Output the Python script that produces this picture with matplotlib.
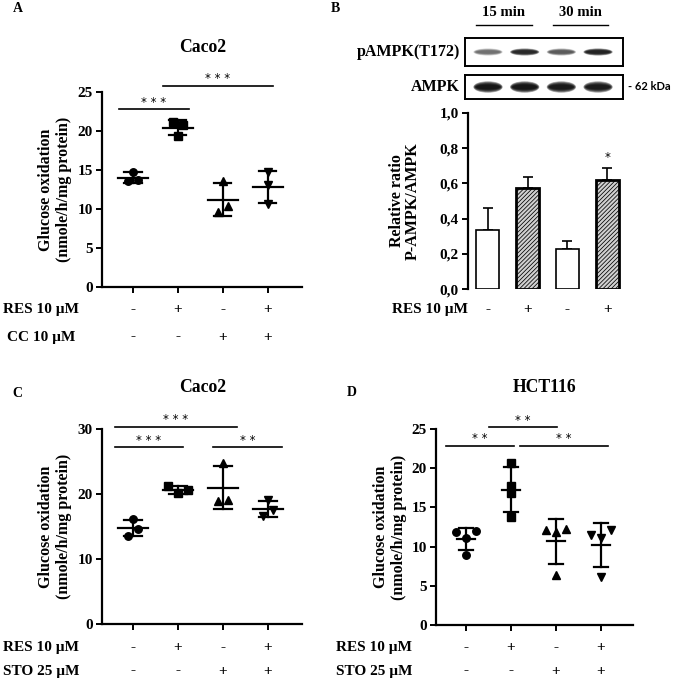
import numpy as np
import matplotlib
matplotlib.use("Agg")
import matplotlib.pyplot as plt
from matplotlib.patches import Ellipse

plt.rcParams['font.family'] = ['Liberation Serif', 'DejaVu Serif']
plt.rcParams['font.weight'] = 'bold'
plt.rcParams['hatch.linewidth'] = 0.55

# ---------------- data ----------------
# Panel A (Caco2, RES / CC)
a_groups = [[14.8, 13.6, 13.7], [21.1, 20.8, 19.3], [13.6, 9.65, 10.4], [14.7, 13.1, 10.7]]
a_row1 = ['-', '+', '-', '+']
a_row2 = ['-', '-', '+', '+']
# Panel B (pAMPK / AMPK ratio)
b_means = [0.336, 0.575, 0.226, 0.619]
b_err = [0.122, 0.063, 0.048, 0.070]
b_row1 = ['-', '+', '-', '+']
b_p_intensity = [0.35, 0.75, 0.45, 0.8]
b_t_intensity = [0.95, 0.97, 0.9, 0.88]
# Panel C (Caco2, RES / STO)
c_groups = [[16.1, 13.6, 14.6], [21.3, 20.1, 20.6], [24.8, 19.0, 19.1], [19.1, 16.6, 17.5]]
c_row1 = ['-', '+', '-', '+']
c_row2 = ['-', '-', '+', '+']
# Panel D (HCT116, RES / STO)
d_groups = [[11.9, 11.1, 12.0, 8.9], [20.7, 17.7, 16.8, 13.8],
            [12.1, 11.9, 12.3, 6.4], [11.5, 11.1, 12.1, 6.1]]
d_row1 = ['-', '+', '-', '+']
d_row2 = ['-', '-', '+', '+']
markers = ['o', 's', '^', 'v']

W, H = 675, 681
fig = plt.figure(figsize=(W / 100, H / 100), dpi=100)


def ax_px(l, r, t, b):
    return fig.add_axes([l / W, 1 - b / H, (r - l) / W, (b - t) / H])


FS_TICK = 11
FS_ROW = 11
FS_TITLE = 12.7
FS_YLAB = 11.5
STAR_FONT = dict(family='DejaVu Sans', fontweight='normal', fontsize=8.5)


def style(ax):
    for s in ['top', 'right']:
        ax.spines[s].set_visible(False)
    for s in ['left', 'bottom']:
        ax.spines[s].set_linewidth(1.6)
    ax.tick_params(width=1.4, length=4.5, labelsize=FS_TICK, pad=2)


def swarm_offsets(vals, ppu, thresh_px=7.0, step=0.22):
    vals = np.asarray(vals, dtype=float)
    order = np.argsort(vals)
    rows_, cur = [], [order[0]]
    for a, b in zip(order[:-1], order[1:]):
        if (vals[b] - vals[a]) * ppu < thresh_px:
            cur.append(b)
        else:
            rows_.append(cur)
            cur = [b]
    rows_.append(cur)
    offs = np.zeros(len(vals))
    for r in rows_:
        r = sorted(r)
        n = len(r)
        for k, idx in enumerate(r):
            offs[idx] = (k - (n - 1) / 2) * step
    return offs


def scatter_panel(ax, groups, mean_hw, cap_hw, ylim, yticks):
    style(ax)
    ax.set_ylim(*ylim)
    ppu = ax.get_position().height * H / (ylim[1] - ylim[0])
    for i, g in enumerate(groups):
        g = np.array(g)
        m = g.mean()
        sd = g.std(ddof=1)
        xs = i + swarm_offsets(g, ppu)
        ax.plot(xs, g, marker=markers[i], ls='none', color='black', ms=5.4, zorder=3, clip_on=False)
        ax.plot([i - mean_hw, i + mean_hw], [m, m], color='black', lw=1.6, zorder=4)
        ax.plot([i, i], [m - sd, m + sd], color='black', lw=1.6, zorder=4)
        for yy in (m - sd, m + sd):
            ax.plot([i - cap_hw, i + cap_hw], [yy, yy], color='black', lw=1.6, zorder=4)
    ax.set_yticks(yticks)
    ax.set_xticks(range(4))
    ax.set_xticklabels([])


def sig(ax, x0, x1, y, stars):
    ax.plot([x0, x1], [y, y], color='black', lw=1.2, clip_on=False)
    ax.annotate(stars, xy=((x0 + x1) / 2, y), xytext=(0, 2.6), textcoords='offset points',
                ha='center', va='baseline', annotation_clip=False, **STAR_FONT)


def rows2(ax, names, rowvals, ypix, xname_px):
    tr = ax.get_xaxis_transform()
    bb = ax.get_position()
    for name, vals, yp in zip(names, rowvals, ypix):
        yfrac = ((1 - yp / H) - bb.y0) / bb.height
        for i, v in enumerate(vals):
            ax.text(i, yfrac, v, ha='center', va='center', fontsize=FS_ROW, transform=tr, clip_on=False)
        fig.text(xname_px / W, 1 - yp / H, name, ha='center', va='center', fontsize=FS_ROW)


def ylab(ax, text, xpix, ls=1.2):
    bb = ax.get_position()
    fig.text(xpix / W, bb.y0 + bb.height / 2, text, rotation=90, ha='center', va='center',
             fontsize=FS_YLAB, linespacing=ls)


# ---------------- Panel A ----------------
axA = ax_px(102, 302, 92, 287)
scatter_panel(axA, a_groups, 0.33, 0.19, (0, 25), [0, 5, 10, 15, 20, 25])
axA.set_xlim(-0.69, 3.76)
sig(axA, -0.31, 1.24, 22.8, '* * *')
sig(axA, 0.67, 3.11, 25.8, '* * *')
fig.text(203 / W, 1 - 47 / H, 'Caco2', ha='center', va='center', fontsize=FS_TITLE)
rows2(axA, ['RES 10 µM', 'CC 10 µM'], [a_row1, a_row2], [310, 337], 41)
ylab(axA, 'Glucose oxidation\n(nmole/h/mg protein)', 55)
fig.text(18 / W, 1 - 9 / H, 'A', ha='center', va='center', fontsize=10)

# ---------------- Panel B ----------------
axB = ax_px(468, 627, 112.7, 289.3)
for s in ['top', 'right', 'bottom']:
    axB.spines[s].set_visible(False)
axB.spines['left'].set_linewidth(1.6)
axB.tick_params(axis='y', width=1.4, length=4.5, labelsize=FS_TICK, pad=2)
axB.tick_params(axis='x', length=0)
for i in range(4):
    hatched = i % 2 == 1
    axB.bar(i, b_means[i], width=0.58, facecolor='#d0d0d0' if hatched else 'white', edgecolor='black',
            lw=2.0 if hatched else 1.2, hatch='////////' if hatched else None, zorder=2)
    axB.errorbar(i, b_means[i], yerr=[[0], [b_err[i]]], color='black', capsize=3.5,
                 elinewidth=1.2, capthick=1.2, zorder=1)
axB.set_xlim(-0.5, 3.5)
axB.set_ylim(0, 1.0)
axB.set_yticks([0, 0.2, 0.4, 0.6, 0.8, 1.0])
axB.set_yticklabels(['0,0', '0,2', '0,4', '0,6', '0,8', '1,0'])
axB.set_xticks([])
axB.annotate('*', xy=(3, b_means[3] + b_err[3]), xytext=(0, 5), textcoords='offset points',
             ha='center', va='baseline', annotation_clip=False, **STAR_FONT)
rows2(axB, ['RES 10 µM'], [b_row1], [310], 430)
ylab(axB, 'Relative ratio\nP-AMPK/AMPK', 405, ls=1.0)
fig.text(335 / W, 1 - 9 / H, 'B', ha='center', va='center', fontsize=10)

# western blot
for (t, b, inten, bh, name) in [(38, 66, b_p_intensity, 0.22, 'pAMPK(T172)'),
                                  (75, 99, b_t_intensity, 0.44, 'AMPK')]:
    axW = ax_px(465, 623, t, b)
    axW.set_xlim(-0.627, 3.68)
    axW.set_ylim(0, 1)
    axW.set_xticks([])
    axW.set_yticks([])
    for s in axW.spines.values():
        s.set_linewidth(1.4)
    for i, v in enumerate(inten):
        for k in range(7):
            f = 1 - k * 0.11
            axW.add_patch(Ellipse((i, 0.5), 0.8 * (0.75 + 0.25 * f), bh * f + 0.04, facecolor='black',
                                  edgecolor='none', alpha=v * 0.3))
    fig.text(460 / W, 1 - ((t + b) / 2) / H, name, ha='right', va='center', fontsize=11.5)
fig.text(628 / W, 1 - 87 / H, '- 62 kDa', ha='left', va='center', fontsize=8,
         family='Lato', fontweight='bold')
for cx, lab, x0, x1 in [(504, '15 min', 476, 532), (580, '30 min', 553, 608)]:
    fig.text(cx / W, 1 - 12 / H, lab, ha='center', va='center', fontsize=10.6)
    fig.add_artist(plt.Line2D([x0 / W, x1 / W], [1 - 25 / H, 1 - 25 / H], color='black', lw=1.0))

# ---------------- Panel C ----------------
axC = ax_px(102, 302, 429, 624)
scatter_panel(axC, c_groups, 0.33, 0.2, (0, 30), [0, 10, 20, 30])
axC.set_xlim(-0.69, 3.76)
sig(axC, -0.4, 2.31, 30.3, '* * *')
sig(axC, -0.4, 1.11, 27.2, '* * *')
sig(axC, 1.78, 3.31, 27.2, '* *')
fig.text(203 / W, 1 - 387 / H, 'Caco2', ha='center', va='center', fontsize=FS_TITLE)
rows2(axC, ['RES 10 µM', 'STO 25 µM'], [c_row1, c_row2], [648, 671], 41)
ylab(axC, 'Glucose oxidation\n(nmole/h/mg protein)', 55)
fig.text(17 / W, 1 - 393 / H, 'C', ha='center', va='center', fontsize=10)

# ---------------- Panel D ----------------
axD = ax_px(436, 633, 429, 625)
scatter_panel(axD, d_groups, 0.19, 0.16, (0, 25), [0, 5, 10, 15, 20, 25])
axD.set_xlim(-0.667, 3.71)
sig(axD, -0.44, 1.07, 22.85, '* *')
sig(axD, 0.51, 2.02, 25.2, '* *')
sig(axD, 1.2, 3.16, 22.85, '* *')
fig.text(545 / W, 1 - 387 / H, 'HCT116', ha='center', va='center', fontsize=FS_TITLE)
rows2(axD, ['RES 10 µM', 'STO 25 µM'], [d_row1, d_row2], [648, 671], 374)
ylab(axD, 'Glucose oxidation\n(nmole/h/mg protein)', 390)
fig.text(352 / W, 1 - 392 / H, 'D', ha='center', va='center', fontsize=10)

fig.savefig('out.png', dpi=100)
